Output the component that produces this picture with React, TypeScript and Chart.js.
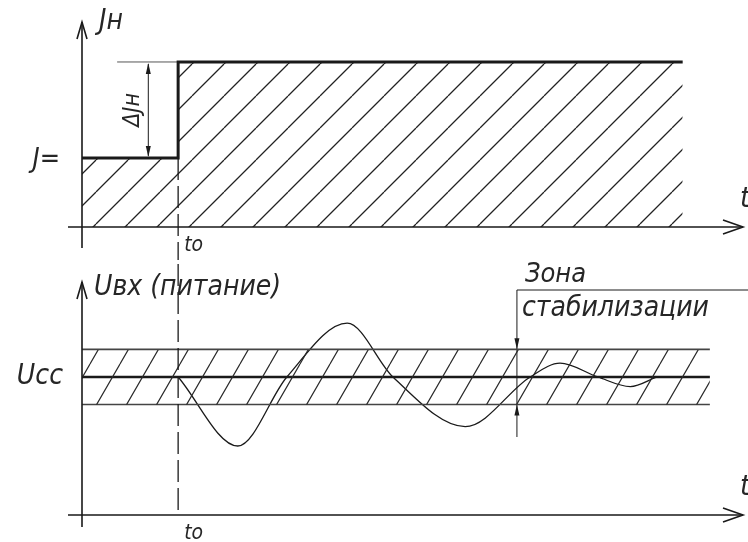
import React, { useEffect, useRef } from 'react';
import { Chart, registerables } from 'chart.js';

Chart.register(...registerables);

// ---------- Top panel: load current Jн(t) ----------
const T0 = 1.45;               // switching moment t0
const J_DC = 3.37;             // J=
const J_N = 8.05;              // Jн after step
const stepT = [0, T0, T0, 9.06];
const stepJ = [J_DC, J_DC, J_N, J_N];
const extT = [0.53, T0];       // thin extension line at Jн level
const DIM_T = 1.0;             // ΔJн dimension position

// ---------- Bottom panel: input voltage Uвх(t) ----------
const U_CC = 1.0;
const U_HI = 1.2;
const U_LO = 0.8;
const bandT = [0, 9.47];
const waveT = [1.45, 2.35, 3.09, 4.0, 4.69, 5.78, 6.76, 7.21, 7.78, 8.27, 8.67];
const waveU = [1.0, 0.5, 1.0, 1.39, 1.0, 0.64, 1.0, 1.1, 1.0, 0.93, 1.0];
const ZONE_T = 6.56;
const zoneU = [0.565, 1.63];
const ZONE_END_T = 10.1;

// ---------- Labels ----------
const lblJn = 'Jн';
const lblJdc = 'J=';
const lblDJ = 'ΔJн';
const lblT0 = 'tо';
const lblT = 't';
const lblU = 'Uвх (питание)';
const lblUcc = 'Ucc';
const lblZone1 = 'Зона';
const lblZone2 = 'стабилизации';

const FONT = "'DejaVu Sans Condensed', 'DejaVu Sans', sans-serif";
const INK = '#1a1a1a';
const TXT = '#262626';

function makeHatch(w: number, h: number, color: string, lw: number) {
  const c = document.createElement('canvas');
  c.width = w;
  c.height = h;
  const g = c.getContext('2d')!;
  g.strokeStyle = color;
  g.lineWidth = lw;
  g.beginPath();
  for (const dx of [-w, 0, w]) {
    g.moveTo(dx, h);
    g.lineTo(dx + w, 0);
  }
  g.stroke();
  return g.createPattern(c, 'repeat')!;
}

function openArrow(ctx: CanvasRenderingContext2D, x: number, y: number, dir: 'up' | 'right') {
  ctx.beginPath();
  if (dir === 'up') {
    ctx.moveTo(x - 5, y + 17);
    ctx.lineTo(x, y);
    ctx.lineTo(x + 5, y + 17);
  } else {
    ctx.moveTo(x - 20, y - 7);
    ctx.lineTo(x, y);
    ctx.lineTo(x - 20, y + 7);
  }
  ctx.stroke();
}

function solidArrow(ctx: CanvasRenderingContext2D, x: number, y: number, dir: 1 | -1, len = 11, hw = 2.5) {
  // dir 1: pointing down (tip at y), -1: pointing up
  ctx.beginPath();
  ctx.moveTo(x, y);
  ctx.lineTo(x - hw, y - dir * len);
  ctx.lineTo(x + hw, y - dir * len);
  ctx.closePath();
  ctx.fill();
}

function txt(ctx: CanvasRenderingContext2D, s: string, x: number, y: number, size: number, align: CanvasTextAlign = 'left', base: CanvasTextBaseline = 'alphabetic') {
  ctx.font = `italic ${size}px ${FONT}`;
  ctx.textAlign = align;
  ctx.textBaseline = base;
  ctx.fillStyle = TXT;
  ctx.fillText(s, x, y);
}

const topPlugin = {
  id: 'topDecor',
  afterDatasetsDraw(chart: any) {
    const { ctx } = chart;
    const xs = chart.scales.x;
    const ys = chart.scales.y;
    const x0 = xs.getPixelForValue(0);
    const y0 = ys.getPixelForValue(0);
    const top = ys.getPixelForValue(ys.max);
    const right = xs.getPixelForValue(xs.max) - 2;
    ctx.save();
    ctx.strokeStyle = INK;
    ctx.fillStyle = INK;
    ctx.lineWidth = 1.6;
    // axes
    ctx.beginPath();
    ctx.moveTo(x0, top);
    ctx.lineTo(x0, y0 + 21);
    ctx.moveTo(x0 - 14, y0);
    ctx.lineTo(right, y0);
    ctx.stroke();
    openArrow(ctx, x0, top, 'up');
    openArrow(ctx, right, y0, 'right');
    // dashed t0 line
    const xt0 = xs.getPixelForValue(T0);
    ctx.lineWidth = 1.3;
    ctx.setLineDash([22, 6]);
    ctx.beginPath();
    ctx.moveTo(xt0, ys.getPixelForValue(J_DC));
    ctx.lineTo(xt0, chart.height);
    ctx.stroke();
    ctx.setLineDash([]);
    // dimension ΔJн
    const xd = xs.getPixelForValue(DIM_T);
    const yA = ys.getPixelForValue(J_N);
    const yB = ys.getPixelForValue(J_DC);
    ctx.lineWidth = 1;
    ctx.beginPath();
    ctx.moveTo(xd, yA + 2);
    ctx.lineTo(xd, yB - 2);
    ctx.stroke();
    solidArrow(ctx, xd, yA + 1, -1);
    solidArrow(ctx, xd, yB - 1, 1);
    ctx.save();
    ctx.translate(xd - 9, (yA + yB) / 2);
    ctx.rotate(-Math.PI / 2);
    txt(ctx, lblDJ, 0, 0, 23, 'center', 'alphabetic');
    ctx.restore();
    // texts
    txt(ctx, lblJn, x0 + 17, top + 7, 28);
    txt(ctx, lblJdc, x0 - 22, yB + 2, 27, 'right', 'middle');
    txt(ctx, lblT0, xt0 + 6, y0 + 24, 21);
    txt(ctx, lblT, chart.width - 8, y0 - 20, 29);
    ctx.restore();
  },
};

const bottomPlugin = {
  id: 'bottomDecor',
  afterDatasetsDraw(chart: any) {
    const { ctx } = chart;
    const xs = chart.scales.x;
    const ys = chart.scales.y;
    const x0 = xs.getPixelForValue(0);
    const y0 = ys.getPixelForValue(0);
    const top = ys.getPixelForValue(ys.max);
    const right = xs.getPixelForValue(xs.max) - 2;
    ctx.save();
    ctx.strokeStyle = INK;
    ctx.fillStyle = INK;
    ctx.lineWidth = 1.6;
    ctx.beginPath();
    ctx.moveTo(x0, top);
    ctx.lineTo(x0, y0 + 12);
    ctx.moveTo(x0 - 14, y0);
    ctx.lineTo(right, y0);
    ctx.stroke();
    openArrow(ctx, x0, top, 'up');
    openArrow(ctx, right, y0, 'right');
    // dashed t0 line
    const xt0 = xs.getPixelForValue(T0);
    ctx.lineWidth = 1.3;
    ctx.setLineDash([22, 6]);
    ctx.lineDashOffset = 24;
    ctx.beginPath();
    ctx.moveTo(xt0, 0);
    ctx.lineTo(xt0, y0);
    ctx.stroke();
    ctx.setLineDash([]);
    // zone arrows
    const xz = xs.getPixelForValue(ZONE_T);
    solidArrow(ctx, xz, ys.getPixelForValue(U_HI), 1);
    solidArrow(ctx, xz, ys.getPixelForValue(U_LO), -1);
    // texts
    txt(ctx, lblU, x0 + 12, top + 6, 28, 'left', 'middle');
    txt(ctx, lblUcc, x0 - 19, ys.getPixelForValue(U_CC), 28, 'right', 'middle');
    txt(ctx, lblT0, xt0 + 6, y0 + 24, 21);
    txt(ctx, lblT, chart.width - 8, y0 - 20, 29);
    const yz = ys.getPixelForValue(zoneU[1]);
    txt(ctx, lblZone1, xz + 8, yz - 8, 27);
    txt(ctx, lblZone2, xz + 5, yz + 26, 28);
    ctx.restore();
  },
};

function baseOptions(pad: { left: number; right: number; top: number; bottom: number }, yMax: number) {
  return {
    responsive: false,
    animation: false as const,
    devicePixelRatio: 1,
    events: [] as any[],
    layout: { padding: pad },
    plugins: { legend: { display: false }, tooltip: { enabled: false }, title: { display: false } },
    elements: { point: { radius: 0 } },
    scales: {
      x: { type: 'linear' as const, min: 0, max: 10, display: false },
      y: { type: 'linear' as const, min: 0, max: yMax, display: false },
    },
  };
}

export default function App() {
  const topRef = useRef<HTMLCanvasElement>(null);
  const botRef = useRef<HTMLCanvasElement>(null);

  useEffect(() => {
    const hatchTop = makeHatch(32, 32, '#222', 1.3);
    const hatchBand = makeHatch(30, 52, '#2a2a2a', 1.2);

    const topChart = new Chart(topRef.current!, {
      type: 'line',
      data: {
        datasets: [
          {
            data: stepT.map((t, i) => ({ x: t, y: stepJ[i] })),
            borderColor: INK,
            borderWidth: 3,
            backgroundColor: hatchTop,
            fill: 'origin',
            tension: 0,
          },
          {
            data: extT.map((t) => ({ x: t, y: J_N })),
            borderColor: '#555',
            borderWidth: 1,
            fill: false,
          },
        ],
      },
      options: baseOptions({ left: 82, right: 3, top: 22, bottom: 33 }, 10) as any,
      plugins: [topPlugin],
    });

    const botChart = new Chart(botRef.current!, {
      type: 'line',
      data: {
        datasets: [
          {
            data: bandT.map((t) => ({ x: t, y: U_HI })),
            borderColor: '#444',
            borderWidth: 1.6,
            backgroundColor: hatchBand,
            fill: '+1',
          },
          {
            data: bandT.map((t) => ({ x: t, y: U_LO })),
            borderColor: '#444',
            borderWidth: 1.6,
            fill: false,
          },
          {
            data: bandT.map((t) => ({ x: t, y: U_CC })),
            borderColor: INK,
            borderWidth: 2.6,
            fill: false,
          },
          {
            data: waveT.map((t, i) => ({ x: t, y: waveU[i] })),
            borderColor: INK,
            borderWidth: 1.3,
            fill: false,
            cubicInterpolationMode: 'monotone',
          },
          {
            data: [
              { x: ZONE_T, y: zoneU[0] },
              { x: ZONE_T, y: zoneU[1] },
              { x: ZONE_END_T, y: zoneU[1] },
            ],
            borderColor: INK,
            borderWidth: 1,
            fill: false,
            clip: false,
          },
        ],
      },
      options: baseOptions({ left: 82, right: 3, top: 22, bottom: 27 }, 1.688) as any,
      plugins: [bottomPlugin],
    });

    return () => {
      topChart.destroy();
      botChart.destroy();
    };
  }, []);

  return (
    <div style={{ position: 'absolute', left: 0, top: 0, width: 748, height: 542, background: '#fff' }}>
      <canvas ref={topRef} width={748} height={260} style={{ display: 'block', width: 748, height: 260 }} />
      <canvas ref={botRef} width={748} height={282} style={{ display: 'block', width: 748, height: 282 }} />
    </div>
  );
}
